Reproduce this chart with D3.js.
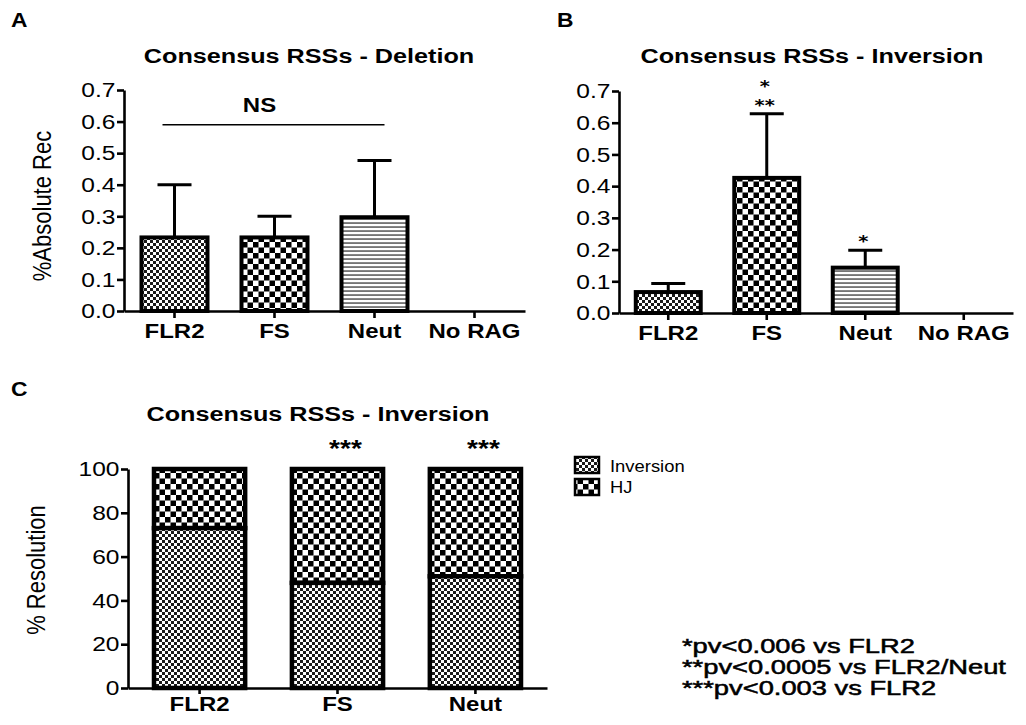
<!DOCTYPE html>
<html lang="en">
<head>
    <meta charset="UTF-8">
    <title>Consensus RSSs</title>
    <script src="https://d3js.org/d3.v7.min.js"></script>
    <style>
        body, html {
            margin: 0;
            padding: 0;
            background: #fff;
            overflow: hidden;
        }
        svg text {
            font-family: "Liberation Sans", Arial, sans-serif;
            fill: #000;
        }
        svg text.star {
            font-family: "DejaVu Sans", sans-serif;
        }
    </style>
</head>
<body>
    <svg id="fig" width="1026" height="725"></svg>

    <script>
        // Data
        const categoriesAB = ["FLR2", "FS", "Neut", "No RAG"];
        const deletionMean = [0.233, 0.233, 0.297, 0];
        const deletionUpper = [0.400, 0.300, 0.477, 0];   // mean + SD
        const inversionMean = [0.066, 0.426, 0.143, 0];
        const inversionUpper = [0.093, 0.628, 0.198, 0];
        const yTicksAB = [0, 0.1, 0.2, 0.3, 0.4, 0.5, 0.6, 0.7];
        const starsB = [[], ["*", "**"], ["*"], []];       // top line first
        const nsLevel = 0.59;

        const categoriesC = ["FLR2", "FS", "Neut"];
        const resInversion = [73, 48, 51];
        const resHJ = [27, 52, 49];
        const yTicksC = [0, 20, 40, 60, 80, 100];
        const starsC = ["", "***", "***"];
        const legendC = ["Inversion", "HJ"];
        const footnotes = ["*pv<0.006 vs FLR2", "**pv<0.0005 vs FLR2/Neut", "***pv<0.003 vs FLR2"];

        const SX = 1.17; // the original figure is stretched horizontally
        const svg = d3.select("#fig");

        // fill patterns
        const defs = svg.append("defs");
        function checker(id, cell, dark) {
            const p = defs.append("pattern").attr("id", id)
                .attr("patternUnits", "userSpaceOnUse")
                .attr("width", cell * 2).attr("height", cell * 2);
            p.append("rect").attr("width", cell * 2).attr("height", cell * 2).attr("fill", "#fff");
            p.append("rect").attr("width", cell).attr("height", cell).attr("fill", dark);
            p.append("rect").attr("x", cell).attr("y", cell).attr("width", cell).attr("height", cell).attr("fill", dark);
        }
        checker("fine", 3, "#1a1a1a");
        checker("coarse", 5.5, "#000");
        const hp = defs.append("pattern").attr("id", "hlines")
            .attr("patternUnits", "userSpaceOnUse").attr("width", 8).attr("height", 4);
        hp.append("rect").attr("width", 8).attr("height", 4).attr("fill", "#fff");
        hp.append("rect").attr("y", 2.3).attr("width", 8).attr("height", 1.5).attr("fill", "#555");
        const fillsAB = ["url(#fine)", "url(#coarse)", "url(#hlines)", "none"];

        function label(g, x, y, str, size, weight, anchor, sx) {
            return g.append("text")
                .attr("transform", `translate(${x},${y}) scale(${sx || SX},1)`)
                .attr("text-anchor", anchor || "middle")
                .style("font-size", size + "px")
                .style("font-weight", weight || "normal")
                .text(str);
        }

        function stretch(sel) {
            sel.each(function () {
                const t = d3.select(this);
                const x = +t.attr("x") || 0, y = +t.attr("y") || 0;
                t.attr("x", 0).attr("y", 0)
                    .attr("transform", `translate(${x},${y}) scale(${SX},1)`);
            });
        }

        function styleAxis(g) {
            g.select(".domain").attr("stroke", "#000").attr("stroke-width", 2.6);
            g.selectAll(".tick line").attr("stroke", "#000").attr("stroke-width", 2.6);
            g.selectAll("text").attr("fill", "#000").attr("font-family", null);
        }

        function barPanel(opt) {
            const x = d3.scaleBand().domain(categoriesAB)
                .range([opt.left, opt.right]).paddingInner(0.3).paddingOuter(opt.po);
            const y = d3.scaleLinear().domain([0, 0.7]).range([opt.bottom, opt.top]);
            const g = svg.append("g");

            // bars with upper error bars
            categoriesAB.forEach((c, i) => {
                if (!opt.mean[i]) return;
                const cx = x(c) + x.bandwidth() / 2;
                g.append("line")
                    .attr("x1", cx).attr("x2", cx)
                    .attr("y1", y(opt.mean[i])).attr("y2", y(opt.upper[i]))
                    .attr("stroke", "#000").attr("stroke-width", 3);
                g.append("line")
                    .attr("x1", cx - 17).attr("x2", cx + 17)
                    .attr("y1", y(opt.upper[i])).attr("y2", y(opt.upper[i]))
                    .attr("stroke", "#000").attr("stroke-width", 3);
                g.append("rect")
                    .attr("x", x(c) + 2).attr("width", x.bandwidth() - 4)
                    .attr("y", y(opt.mean[i])).attr("height", y(0) - y(opt.mean[i]))
                    .attr("fill", fillsAB[i])
                    .attr("stroke", "#000").attr("stroke-width", 4);
            });

            const ya = g.append("g").attr("transform", `translate(${opt.left},0)`)
                .call(d3.axisLeft(y).tickValues(yTicksAB).tickFormat(d3.format(".1f"))
                    .tickSize(7).tickPadding(1.5).tickSizeOuter(0));
            styleAxis(ya);
            ya.selectAll("text").style("font-size", "21px");
            stretch(ya.selectAll("text"));

            const xa = g.append("g").attr("transform", `translate(0,${opt.bottom})`)
                .call(d3.axisBottom(x).tickSize(7).tickPadding(5).tickSizeOuter(0));
            styleAxis(xa);
            xa.selectAll("text").style("font-size", "20.5px").style("font-weight", "bold");
            stretch(xa.selectAll("text"));

            label(svg, opt.titleX, 63, opt.title, 21, "bold", "middle", 1.2);
            label(svg, opt.letterX, 27, opt.letter, 19.5, "bold", "start");
            return { g, x, y };
        }

        // Panel A
        const A = barPanel({
            left: 124, right: 525, po: 0.155, top: 90, bottom: 311,
            mean: deletionMean, upper: deletionUpper,
            title: "Consensus RSSs - Deletion", titleX: 309, letter: "A", letterX: 11
        });
        const ax0 = A.x("FLR2") + A.x.bandwidth() / 2 - 12;
        const ax1 = A.x("Neut") + A.x.bandwidth() / 2 + 10;
        A.g.append("line").attr("x1", ax0).attr("x2", ax1)
            .attr("y1", A.y(nsLevel)).attr("y2", A.y(nsLevel))
            .attr("stroke", "#000").attr("stroke-width", 1.6);
        label(A.g, (ax0 + ax1) / 2 - 14, A.y(nsLevel) - 13, "NS", 20.5, "bold");
        svg.append("text")
            .attr("transform", `translate(51,206) scale(${SX},1) rotate(-90)`)
            .attr("text-anchor", "middle").style("font-size", "22px")
            .text("%Absolute Rec");

        // Panel B
        const B = barPanel({
            left: 619, right: 1013, po: 0.15, top: 91, bottom: 313,
            mean: inversionMean, upper: inversionUpper,
            title: "Consensus RSSs - Inversion", titleX: 812, letter: "B", letterX: 557
        });
        categoriesAB.forEach((c, i) => {
            const lines = starsB[i];
            const cx = B.x(c) + B.x.bandwidth() / 2 - 2;
            lines.forEach((s, j) => {
                const base = B.y(inversionUpper[i]) - 3 - (lines.length - 1 - j) * 18.5;
                label(B.g, cx, base, s, 15.5, "bold", "middle", 1.25).attr("class", "star");
            });
        });

        // Panel C
        const xc = d3.scaleBand().domain(categoriesC).range([128, 547])
            .paddingInner(0.31).paddingOuter(0.174);
        const yc = d3.scaleLinear().domain([0, 100]).range([688, 469]);
        const gc = svg.append("g");
        categoriesC.forEach((c, i) => {
            const inv = resInversion[i], hj = resHJ[i];
            gc.append("rect")
                .attr("x", xc(c) + 2).attr("width", xc.bandwidth() - 4)
                .attr("y", yc(inv + hj)).attr("height", yc(inv) - yc(inv + hj))
                .attr("fill", "url(#coarse)").attr("stroke", "#000").attr("stroke-width", 4.5);
            gc.append("rect")
                .attr("x", xc(c) + 2).attr("width", xc.bandwidth() - 4)
                .attr("y", yc(inv)).attr("height", yc(0) - yc(inv))
                .attr("fill", "url(#fine)").attr("stroke", "#000").attr("stroke-width", 4.5);
            if (starsC[i]) label(gc, xc(c) + xc.bandwidth() / 2 + 8, 457, starsC[i], 24, "bold");
        });
        const yca = gc.append("g").attr("transform", "translate(128,0)")
            .call(d3.axisLeft(yc).tickValues(yTicksC).tickSize(7).tickPadding(1.5).tickSizeOuter(0));
        styleAxis(yca);
        yca.selectAll("text").style("font-size", "21px");
        stretch(yca.selectAll("text"));
        const xca = gc.append("g").attr("transform", "translate(0,688)")
            .call(d3.axisBottom(xc).tickSize(6).tickPadding(2).tickSizeOuter(0));
        styleAxis(xca);
        xca.selectAll("text").style("font-size", "20.5px").style("font-weight", "bold");
        stretch(xca.selectAll("text"));
        label(svg, 318, 421, "Consensus RSSs - Inversion", 21, "bold", "middle", 1.2);
        label(svg, 11, 396, "C", 19.5, "bold", "start");
        svg.append("text")
            .attr("transform", `translate(45,570) scale(${SX},1) rotate(-90)`)
            .attr("text-anchor", "middle").style("font-size", "22px")
            .text("% Resolution");

        // legend
        const legFills = ["url(#fine)", "url(#coarse)"];
        legendC.forEach((name, i) => {
            svg.append("rect")
                .attr("x", 575).attr("y", 457 + i * 22).attr("width", 24).attr("height", 16)
                .attr("fill", legFills[i]).attr("stroke", "#000").attr("stroke-width", 2.5);
            label(svg, 610, 472 + i * 21, name, 16, "normal", "start", 1.15);
        });

        // footnotes
        footnotes.forEach((t, i) => {
            label(svg, 682, 653 + i * 21, t, 19.5, "normal", "start", 1.4)
                .attr("stroke", "#000").attr("stroke-width", 0.5);
        });
    </script>
</body>
</html>
